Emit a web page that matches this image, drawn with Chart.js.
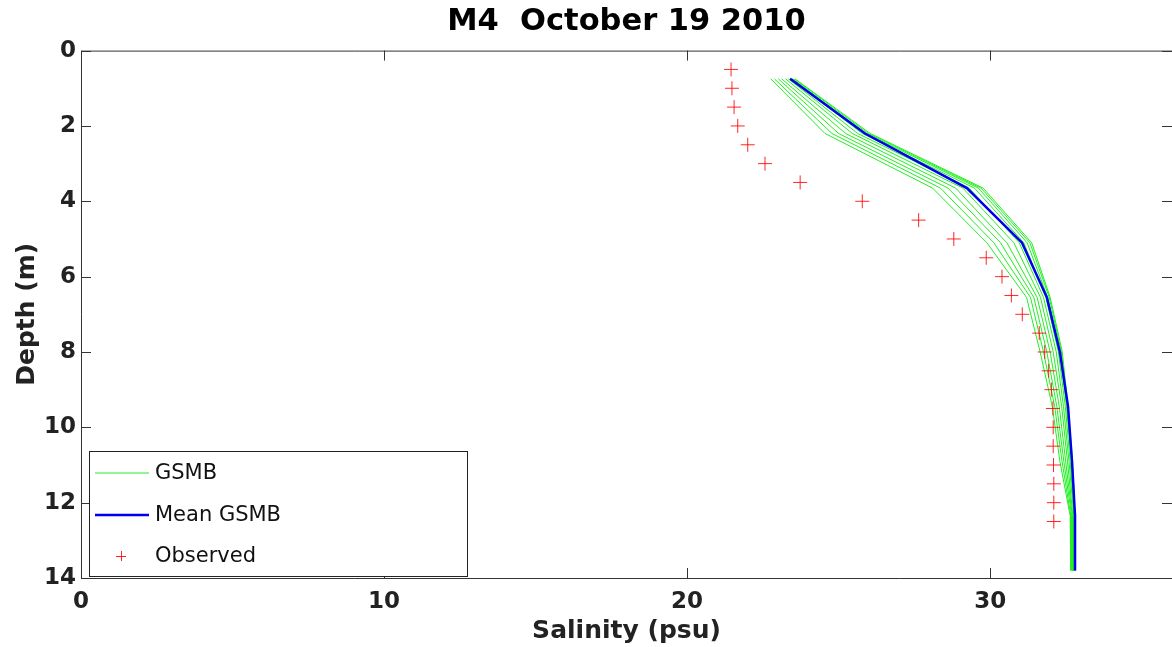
<!DOCTYPE html>
<html>
<head>
<meta charset="utf-8">
<title>M4 October 19 2010</title>
<script src="https://cdn.jsdelivr.net/npm/chart.js@4.4.1/dist/chart.umd.min.js"></script>
<style>
  html, body { margin: 0; padding: 0; background: #ffffff; }
  #wrap { width: 1172px; height: 647px; }
</style>
</head>
<body>
<div id="wrap"><canvas id="c" width="1172" height="647"></canvas></div>
<script>
// Model layer depths (m)
const modelDepths = [0.75, 2.2, 3.65, 5.1, 6.55, 8.0, 9.45, 10.9, 12.35, 13.8];

// GSMB ensemble members: salinity (psu) at each model depth
const gsmb01 = [22.76, 24.55, 28.10, 29.89, 31.20, 31.65, 32.05, 32.30, 32.64, 32.66];
const gsmb02 = [22.88, 24.78, 28.36, 30.12, 31.33, 31.76, 32.13, 32.37, 32.66, 32.68];
const gsmb03 = [23.01, 25.00, 28.61, 30.34, 31.44, 31.87, 32.20, 32.43, 32.69, 32.70];
const gsmb04 = [23.12, 25.23, 28.86, 30.55, 31.55, 31.98, 32.28, 32.49, 32.71, 32.72];
const gsmb05 = [23.25, 25.45, 29.10, 30.78, 31.66, 32.08, 32.36, 32.55, 32.73, 32.74];
const gsmb06 = [23.34, 25.63, 29.31, 30.96, 31.76, 32.18, 32.42, 32.60, 32.76, 32.76];
const gsmb07 = [23.42, 25.78, 29.48, 31.11, 31.84, 32.25, 32.48, 32.64, 32.77, 32.77];
const gsmb08 = [23.48, 25.90, 29.61, 31.22, 31.90, 32.31, 32.52, 32.68, 32.78, 32.78];
const gsmb09 = [23.53, 25.98, 29.70, 31.31, 31.95, 32.35, 32.55, 32.70, 32.79, 32.79];
const gsmb10 = [23.56, 26.04, 29.77, 31.37, 31.98, 32.38, 32.57, 32.72, 32.80, 32.80];
const gsmbMembers = [gsmb01, gsmb02, gsmb03, gsmb04, gsmb05, gsmb06, gsmb07, gsmb08, gsmb09, gsmb10];

// Ensemble mean salinity (psu)
const meanGsmb = [23.40, 25.87, 29.23, 31.05, 31.87, 32.30, 32.57, 32.70, 32.80, 32.80];

// Observed CTD profile
const obsDepths = [0.5, 1.0, 1.5, 2.0, 2.5, 3.0, 3.5, 4.0, 4.5, 5.0, 5.5, 6.0, 6.5,
                   7.0, 7.5, 8.0, 8.5, 9.0, 9.5, 10.0, 10.5, 11.0, 11.5, 12.0, 12.5];
const obsSalinity = [21.45, 21.48, 21.55, 21.67, 22.00, 22.57, 23.73, 25.78, 27.64, 28.80,
                     29.87, 30.39, 30.70, 31.06, 31.62, 31.80, 31.93, 32.02, 32.07, 32.08,
                     32.08, 32.09, 32.10, 32.10, 32.10];

// Axis ticks
const salinityTicks = [0, 10, 20, 30];
const depthTicks = [0, 2, 4, 6, 8, 10, 12, 14];

const legendLabels = ['GSMB', 'Mean GSMB', 'Observed'];

const GREEN = '#22ee22';
const BLUE = '#0000ee';
const RED = 'rgba(255,0,0,0.85)';
const AXIS = '#333333';
const FAMILY = '"DejaVu Sans", Verdana, sans-serif';

const toPoints = (xs, ys) => xs.map((v, i) => ({ x: v, y: ys[i] }));

const datasets = gsmbMembers.map((m, i) => ({
  label: i === 0 ? legendLabels[0] : legendLabels[0] + ' ' + (i + 1),
  data: toPoints(m, modelDepths),
  showLine: true,
  borderColor: GREEN,
  borderWidth: 1,
  pointRadius: 0,
  tension: 0,
  order: 3
}));
datasets.push({
  label: legendLabels[1],
  data: toPoints(meanGsmb, modelDepths),
  showLine: true,
  borderColor: BLUE,
  borderWidth: 2.5,
  pointRadius: 0,
  order: 2
});
datasets.push({
  label: legendLabels[2],
  data: toPoints(obsSalinity, obsDepths),
  showLine: false,
  pointStyle: 'cross',
  pointRadius: 7,
  pointBorderColor: RED,
  pointBorderWidth: 1,
  pointBackgroundColor: RED,
  order: 1
});

// Box around the plot with inward ticks on all four sides
const frameTicks = {
  id: 'frameTicks',
  afterDatasetsDraw(chart) {
    const { ctx, chartArea: a, scales } = chart;
    const len = 10;
    ctx.save();
    ctx.strokeStyle = AXIS;
    ctx.lineWidth = 1;
    ctx.beginPath();
    ctx.rect(a.left + 0.5, a.top + 0.5, a.right - a.left, a.bottom - a.top);
    salinityTicks.forEach(v => {
      const x = Math.round(scales.x.getPixelForValue(v)) + 0.5;
      ctx.moveTo(x, a.bottom); ctx.lineTo(x, a.bottom - len);
      ctx.moveTo(x, a.top); ctx.lineTo(x, a.top + len);
    });
    depthTicks.forEach(v => {
      const y = Math.round(scales.y.getPixelForValue(v)) + 0.5;
      ctx.moveTo(a.left, y); ctx.lineTo(a.left + len, y);
      ctx.moveTo(a.right, y); ctx.lineTo(a.right - len, y);
    });
    ctx.stroke();
    ctx.restore();
  }
};

// Legend box in the lower-left corner of the plot
const boxLegend = {
  id: 'boxLegend',
  afterDraw(chart) {
    const { ctx, chartArea: a } = chart;
    const bx = a.left + 8, bw = 378, bh = 125;
    const by = a.bottom - 2 - bh;
    ctx.save();
    ctx.fillStyle = '#ffffff';
    ctx.fillRect(bx, by, bw, bh);
    ctx.strokeStyle = '#222222';
    ctx.lineWidth = 1;
    ctx.strokeRect(bx + 0.5, by + 0.5, bw, bh);
    ctx.font = '21px ' + FAMILY;
    ctx.textBaseline = 'middle';
    ctx.fillStyle = '#111111';
    const rows = [by + 22, by + 64, by + 105];
    // GSMB
    ctx.strokeStyle = GREEN; ctx.lineWidth = 1;
    ctx.beginPath(); ctx.moveTo(bx + 6, rows[0]); ctx.lineTo(bx + 60, rows[0]); ctx.stroke();
    // Mean GSMB
    ctx.strokeStyle = BLUE; ctx.lineWidth = 2.5;
    ctx.beginPath(); ctx.moveTo(bx + 6, rows[1]); ctx.lineTo(bx + 60, rows[1]); ctx.stroke();
    // Observed
    ctx.strokeStyle = RED; ctx.lineWidth = 1;
    ctx.beginPath();
    ctx.moveTo(bx + 27, rows[2] + 0.5); ctx.lineTo(bx + 37, rows[2] + 0.5);
    ctx.moveTo(bx + 32.5, rows[2] - 5); ctx.lineTo(bx + 32.5, rows[2] + 5);
    ctx.stroke();
    legendLabels.forEach((t, i) => ctx.fillText(t, bx + 66, rows[i] + 1));
    ctx.restore();
  }
};

const tickFont = { family: FAMILY, size: 23, weight: 'bold' };
const axisTitleFont = { family: FAMILY, size: 25, weight: 'bold' };

new Chart(document.getElementById('c'), {
  type: 'scatter',
  data: { datasets },
  options: {
    responsive: false,
    animation: false,
    devicePixelRatio: 1,
    layout: { padding: 0, autoPadding: false },
    plugins: {
      legend: { display: false },
      tooltip: { enabled: false },
      title: {
        display: true,
        fullSize: false,
        text: 'M4  October 19 2010',
        color: '#000000',
        font: { family: FAMILY, size: 30.5, weight: 'bold' },
        padding: { top: 4, bottom: 10 }
      }
    },
    scales: {
      x: {
        type: 'linear',
        position: 'bottom',
        min: 0,
        max: 36,
        afterFit(s) { s.height = 69; s.paddingLeft = 0; s.paddingRight = 0; },
        afterBuildTicks(s) { s.ticks = salinityTicks.map(v => ({ value: v })); },
        grid: { display: false, drawTicks: false },
        border: { display: false },
        ticks: { color: '#222222', font: tickFont, padding: 10, maxRotation: 0 },
        title: {
          display: true,
          text: 'Salinity (psu)',
          color: '#222222',
          font: axisTitleFont,
          padding: { top: 0, bottom: 1 }
        }
      },
      y: {
        type: 'linear',
        reverse: true,
        min: 0,
        max: 14,
        afterFit(s) { s.width = 81; s.paddingTop = 0; s.paddingBottom = 0; },
        afterBuildTicks(s) { s.ticks = depthTicks.map(v => ({ value: v })); },
        grid: { display: false, drawTicks: false },
        border: { display: false },
        ticks: { color: '#222222', font: tickFont, padding: 5 },
        title: {
          display: true,
          text: 'Depth (m)',
          color: '#222222',
          font: axisTitleFont,
          padding: { top: 12, bottom: 0 }
        }
      }
    }
  },
  plugins: [frameTicks, boxLegend]
});
</script>
</body>
</html>
